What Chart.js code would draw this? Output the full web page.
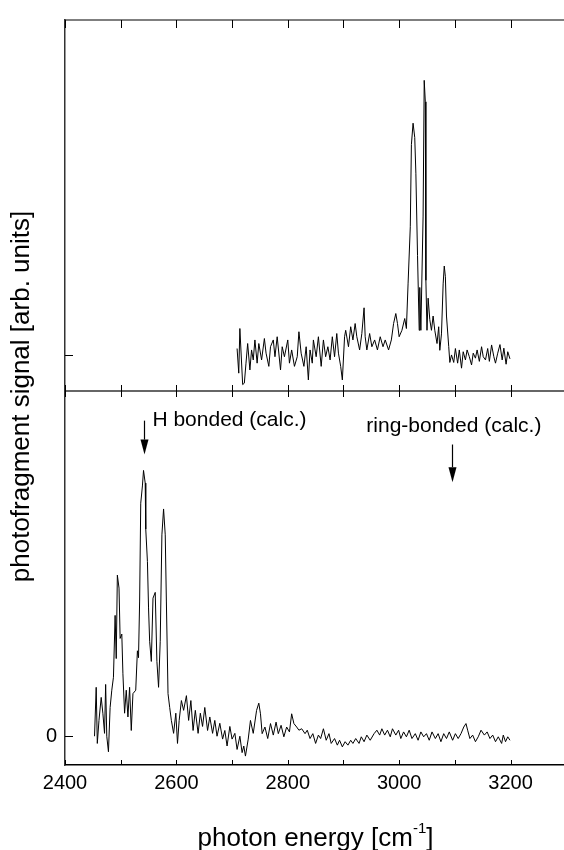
<!DOCTYPE html>
<html>
<head>
<meta charset="utf-8">
<script src="https://cdn.jsdelivr.net/npm/chart.js@4.4.1/dist/chart.umd.min.js"></script>
<style>
  html, body { margin: 0; padding: 0; background: #fff; }
  canvas { display: block; }
</style>
</head>
<body>
<canvas id="spectrumChart" width="564" height="850"></canvas>
<script>
// upper trace (energy in cm-1, signal in arb. units)
const topEnergy = [
  2709, 2712, 2714, 2719, 2722, 2725, 2728, 2732, 2735, 2738,
  2741, 2745, 2748, 2753, 2758, 2761, 2766, 2769, 2774, 2777,
  2781, 2787, 2790, 2794, 2800, 2803, 2807, 2812, 2817, 2820,
  2824, 2829, 2833, 2837, 2840, 2844, 2846, 2851, 2855, 2860,
  2864, 2868, 2872, 2876, 2880, 2884, 2888, 2891, 2895, 2898,
  2902, 2904, 2909, 2913, 2917, 2921, 2924, 2929, 2933, 2937,
  2939, 2942, 2947, 2951, 2956, 2961, 2966, 2971, 2975, 2981,
  2986, 2990, 2994, 2997, 3000, 3005, 3010, 3013, 3016, 3020,
  3022, 3025, 3028, 3030, 3033, 3036, 3037, 3039, 3043, 3045,
  3047, 3048, 3050, 3052, 3055, 3058, 3061, 3064, 3068, 3071,
  3073, 3076, 3079, 3081, 3083, 3085, 3089, 3091, 3094, 3098,
  3101, 3105, 3108, 3112, 3115, 3119, 3122, 3126, 3130, 3133,
  3137, 3140, 3144, 3148, 3151, 3155, 3159, 3162, 3166, 3170,
  3173, 3177, 3181, 3185, 3188, 3192, 3195, 3199
];
const topSignal = [
  0.19, -0.5, 0.75, -0.82, -0.78, -0.22, 0.33, -0.41, 0.15, -0.13,
  0.43, -0.22, 0.33, -0.13, 0.47, 0.06, -0.31, 0.24, 0.43, -0.04,
  0.52, -0.41, 0.24, -0.04, 0.43, -0.22, 0.15, -0.31, -0.04, 0.66,
  0.06, -0.31, 0.24, -0.69, 0.15, -0.22, 0.43, -0.04, 0.52, -0.31,
  0.43, -0.04, 0.24, -0.13, 0.52, -0.04, 0.61, 0.06, -0.31, -0.69,
  0.52, 0.70, 0.24, 0.80, 0.43, 0.89, 0.52, 0.15, 0.61, 1.33,
  0.52, 0.15, 0.61, 0.24, 0.43, 0.15, 0.52, 0.24, 0.43, 0.15,
  0.43, 0.89, 1.17, 0.89, 0.52, 0.70, 1.03, 0.75, 2.0, 3.6,
  5.9, 6.5, 6.1, 5.1, 2.8, 0.7, 1.9, 0.7, 3.9, 7.7,
  7.1, 2.1, 0.7, 1.6, 1.0, 0.7, 1.1, 0.7, 0.33, 0.8,
  0.14, 0.6, 2.0, 2.5, 2.2, 1.1, 0.25, -0.2, 0.01, -0.2,
  0.19, -0.22, 0.15, -0.36, 0.1, -0.13, 0.15, -0.04, -0.27, 0.06,
  -0.08, 0.15, -0.17, 0.24, -0.04, -0.13, 0.19, -0.17, 0.29, -0.04,
  -0.22, 0.06, 0.3, -0.13, 0.2, -0.25, 0.1, -0.1
];

// lower trace
const botEnergy = [
  2453, 2456, 2458, 2461, 2465, 2468, 2471, 2473, 2475, 2478,
  2481, 2484, 2487, 2490, 2492, 2494, 2497, 2499, 2502, 2504,
  2507, 2510, 2513, 2516, 2519, 2522, 2527, 2530, 2532, 2534,
  2536, 2539, 2541, 2544, 2545, 2548, 2550, 2552, 2555, 2558,
  2562, 2565, 2568, 2571, 2574, 2577, 2580, 2582, 2585, 2588,
  2591, 2595, 2599, 2602, 2605, 2609, 2613, 2618, 2622, 2626,
  2630, 2634, 2639, 2643, 2647, 2651, 2656, 2660, 2665, 2669,
  2673, 2678, 2683, 2687, 2691, 2696, 2700, 2705, 2709, 2714,
  2718, 2721, 2724, 2729, 2733, 2738, 2744, 2748, 2751, 2754,
  2759, 2764, 2769, 2774, 2779, 2783, 2788, 2793, 2798, 2803,
  2807, 2811, 2816, 2820, 2825, 2831, 2835, 2840, 2845, 2850,
  2855, 2859, 2864, 2869, 2874, 2878, 2884, 2889, 2893, 2898,
  2903, 2908, 2913, 2917, 2922, 2928, 2932, 2937, 2942, 2948,
  2955, 2960, 2965, 2969, 2974, 2979, 2984, 2988, 2994, 2999,
  3003, 3008, 3013, 3018, 3023, 3029, 3034, 3039, 3044, 3049,
  3054, 3059, 3065, 3070, 3075, 3080, 3085, 3090, 3096, 3101,
  3106, 3111, 3116, 3120, 3123, 3127, 3132, 3137, 3142, 3147,
  3153, 3158, 3163, 3168, 3173, 3178, 3184, 3187, 3191, 3195,
  3199
];
const botSignal = [
  0.0, 1.7, -0.25, 0.55, 1.35, 0.8, 0.1, 1.8, 0.0, -0.54,
  1.0, 1.6, 2.05, 4.2, 2.7, 5.6, 5.15, 3.4, 3.55, 2.17,
  0.8, 1.6, 0.67, 1.7, 0.2, 1.48, 1.6, 2.97, 2.73, 4.7,
  8.1, 8.7, 9.24, 8.8, 7.2, 6.07, 4.46, 3.3, 2.6, 4.8,
  5.0, 2.6, 1.7, 3.3, 7.0, 7.9, 7.0, 4.7, 1.48, 1.0,
  0.55, 0.1, 0.8, -0.25, 0.55, 1.24, 0.9, 1.41, 0.55, 1.24,
  0.2, 0.9, 0.1, 0.8, 0.34, 1.0, 0.2, 0.67, 0.1, 0.55,
  0.0, 0.45, -0.1, 0.2, -0.34, 0.34, -0.1, 0.1, -0.46, 0.0,
  -0.57, -0.34, -0.69, -0.1, 0.55, 0.1, 0.9, 1.15, 0.78, 0.09,
  0.32, -0.08, 0.44, 0.04, 0.49, 0.09, 0.38, -0.02, 0.32, 0.15,
  0.78, 0.44, 0.32, 0.21, 0.26, 0.09, 0.21, -0.08, 0.09, -0.25,
  0.04, -0.08, 0.26, -0.14, 0.09, -0.25, -0.08, -0.31, -0.14, -0.37,
  -0.19, -0.31, -0.14, -0.25, -0.08, -0.25, -0.02, -0.19, 0.04, -0.14,
  0.09, 0.21, 0.04, 0.26, 0.04, 0.21, -0.02, 0.26, 0.04, 0.21,
  -0.08, 0.15, -0.02, 0.21, -0.08, 0.09, -0.14, 0.15, -0.02, 0.09,
  -0.14, 0.15, -0.08, 0.09, -0.19, 0.09, -0.08, 0.15, -0.14, 0.09,
  -0.08, 0.09, 0.32, 0.44, 0.21, -0.08, 0.04, -0.19, -0.02, 0.21,
  0.04, 0.15, -0.08, 0.04, -0.19, -0.02, -0.25, 0.04, -0.19, -0.02,
  -0.14
];

// calculated band positions marked with arrows (lower panel)
const markerLabels = ["H bonded (calc.)", "ring-bonded (calc.)"];
const markerEnergy = [2541, 3095];

const FONT = "'Liberation Sans', Arial, Helvetica, sans-serif";

// text / arrow placement in lower-panel data units
const markerLayout = [
  { textX: 2557, textY: 10.97, top: 10.97, tip: 9.79 },
  { textX: 2941, textY: 10.79, top: 10.14, tip: 8.83 },
];

const framePlugin = {
  id: "frame",
  afterDraw(chart) {
    const { ctx, chartArea: a, scales } = chart;
    const x = scales.x, yTop = scales.yTop, yBot = scales.yBot;
    const mid = yTop.bottom;
    ctx.save();
    ctx.strokeStyle = "#000";
    ctx.fillStyle = "#000";

    // top border and panel divider
    ctx.lineWidth = 1.2;
    ctx.beginPath();
    ctx.moveTo(a.left, a.top); ctx.lineTo(a.right, a.top);
    ctx.stroke();
    ctx.strokeStyle = "#333";
    ctx.lineWidth = 1.6;
    ctx.beginPath();
    ctx.moveTo(a.left, mid); ctx.lineTo(a.right, mid);
    ctx.stroke();

    // inward ticks: labelled ticks plus one midway between each pair
    const values = [];
    x.ticks.forEach((t, i) => {
      values.push(t.value);
      const next = x.ticks[i + 1];
      if (next) values.push((t.value + next.value) / 2);
    });
    ctx.strokeStyle = "#000";
    ctx.lineWidth = 1;
    ctx.beginPath();
    values.forEach((v) => {
      const px = Math.round(x.getPixelForValue(v)) + 0.5;
      ctx.moveTo(px, a.top); ctx.lineTo(px, a.top + 8);
      ctx.moveTo(px, mid - 6); ctx.lineTo(px, mid + 6);
      ctx.moveTo(px, a.bottom); ctx.lineTo(px, a.bottom - 5);
    });
    [yTop, yBot].forEach((s) => s.ticks.forEach((t) => {
      const py = Math.round(s.getPixelForValue(t.value)) + 0.5;
      ctx.moveTo(a.left, py); ctx.lineTo(a.left + 8, py);
    }));
    ctx.stroke();

    // arrows + labels
    ctx.font = "21px " + FONT;
    ctx.textAlign = "left";
    ctx.textBaseline = "middle";
    markerLabels.forEach((label, i) => {
      const m = markerLayout[i];
      const px = Math.round(x.getPixelForValue(markerEnergy[i])) + 0.5;
      const yTopPx = yBot.getPixelForValue(m.top);
      const yTip = yBot.getPixelForValue(m.tip);
      const headLen = 15;
      ctx.lineWidth = 1.2;
      ctx.beginPath();
      ctx.moveTo(px, yTopPx); ctx.lineTo(px, yTip - headLen);
      ctx.stroke();
      ctx.beginPath();
      ctx.moveTo(px - 4, yTip - headLen);
      ctx.lineTo(px + 4, yTip - headLen);
      ctx.lineTo(px, yTip);
      ctx.closePath();
      ctx.fill();
      ctx.fillText(label, x.getPixelForValue(m.textX), yBot.getPixelForValue(m.textY));
    });

    // y title
    ctx.save();
    ctx.translate(22, (a.top + a.bottom) / 2 + 4);
    ctx.rotate(-Math.PI / 2);
    ctx.font = "26px " + FONT;
    ctx.textAlign = "center";
    ctx.fillText("photofragment signal [arb. units]", 0, 0);
    ctx.restore();

    // x title with superscript
    const main = "photon energy [cm", sup = "-1", close = "]";
    ctx.font = "26px " + FONT;
    const wMain = ctx.measureText(main).width;
    const wClose = ctx.measureText(close).width;
    ctx.font = "15px " + FONT;
    const wSup = ctx.measureText(sup).width;
    const cx = (a.left + a.right) / 2 + 1;
    const ty = a.bottom + 74;
    let sx = cx - (wMain + wSup + wClose) / 2;
    ctx.textAlign = "left";
    ctx.font = "26px " + FONT;
    ctx.fillText(main, sx, ty);
    sx += wMain;
    ctx.font = "15px " + FONT;
    ctx.fillText(sup, sx, ty - 10);
    sx += wSup;
    ctx.font = "26px " + FONT;
    ctx.fillText(close, sx, ty);

    ctx.restore();
  }
};

const lineStyle = {
  borderColor: "#000",
  borderWidth: 1,
  pointRadius: 0,
  tension: 0,
  fill: false,
};

new Chart(document.getElementById("spectrumChart").getContext("2d"), {
  type: "line",
  data: {
    datasets: [
      {
        ...lineStyle,
        label: "lower",
        yAxisID: "yBot",
        data: botEnergy.map((e, i) => ({ x: e, y: botSignal[i] })),
      },
      {
        ...lineStyle,
        label: "upper",
        yAxisID: "yTop",
        data: topEnergy.map((e, i) => ({ x: e, y: topSignal[i] })),
      },
    ],
  },
  options: {
    responsive: false,
    animation: false,
    devicePixelRatio: 1,
    layout: { padding: { top: 14, right: 0, bottom: 0, left: 0 } },
    plugins: { legend: { display: false }, tooltip: { enabled: false } },
    scales: {
      x: {
        type: "linear",
        position: "bottom",
        min: 2400,
        max: 3296,
        grid: { display: false, drawTicks: false },
        border: { display: true, color: "#000", width: 1.5 },
        ticks: {
          stepSize: 200,
          includeBounds: false,
          autoSkip: false,
          maxRotation: 0,
          padding: 6,
          color: "#000",
          font: { family: FONT, size: 20 },
          callback: (v) => String(v),
        },
        afterFit: (s) => { s.height = 85; },
      },
      yBot: {
        type: "linear",
        position: "left",
        stack: "panels",
        stackWeight: 377,
        min: -1,
        max: 12,
        grid: { display: false, drawTicks: false },
        border: { display: true, color: "#333", width: 1.5 },
        ticks: { padding: 8, color: "#000", font: { family: FONT, size: 20 } },
        afterBuildTicks: (s) => { s.ticks = [{ value: 0 }]; },
        afterFit: (s) => { s.width = 65; },
      },
      yTop: {
        type: "linear",
        position: "left",
        stack: "panels",
        stackWeight: 374,
        min: -1,
        max: 9.39,
        grid: { display: false, drawTicks: false },
        border: { display: true, color: "#333", width: 1.5 },
        ticks: { display: false },
        afterBuildTicks: (s) => { s.ticks = [{ value: 0 }]; },
        afterFit: (s) => { s.width = 65; },
      },
    },
  },
  plugins: [framePlugin],
});
</script>
</body>
</html>
